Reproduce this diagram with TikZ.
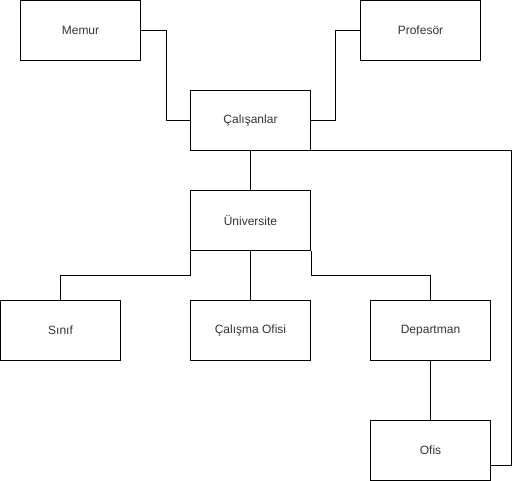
\documentclass[tikz,border=0pt]{standalone}
\usepackage{fontspec}
\setmainfont{Liberation Sans}
\usepackage{tikz}
\begin{document}
\begin{tikzpicture}[x=0.75pt,y=-0.75pt]
\usetikzlibrary{calc}
\tikzset{edge/.style = {-, line width=0.75pt}}
\tikzset{box/.style = {shape=rectangle, draw, line width=0.75pt, minimum width=90pt, minimum height=45pt, text=black!80, font=\fontsize{9}{11}\selectfont}}
\useasboundingbox (-0.5,-0.5) rectangle (511.5,480.5);
\node[box](memur) at (80,30) {Memur};
\node[box](prof) at (420,30) {Profesör};
\node[box](cal) at (250,120) {Çalışanlar};
\node[box](uni) at (250,220) {Üniversite};
\node[box](sinif) at (60,330) {Sınıf};
\node[box](calofis) at (250,330) {Çalışma Ofisi};
\node[box](dep) at (430,330) {Departman};
\node[box](ofis) at (430,450) {Ofis};
\draw[edge] (memur.east) -- ++(25,0) |- (cal.west);
\draw[edge] (prof.west) -- ++(-25,0) |- (cal.east);
\draw[edge] (cal.south) to (uni.north);
\draw[edge] (cal.south east) -- ++(200,0) |- ($(ofis.east)+(0,15)$);
\draw[edge] (uni.south west) -- ++(0,25) -| (sinif.north);
\draw[edge] (uni.south) to (calofis.north);
\draw[edge] (uni.south east) -- ++(0,25) -| (dep.north);
\draw[edge] (dep.south) to (ofis.north);
\end{tikzpicture}
\end{document}
